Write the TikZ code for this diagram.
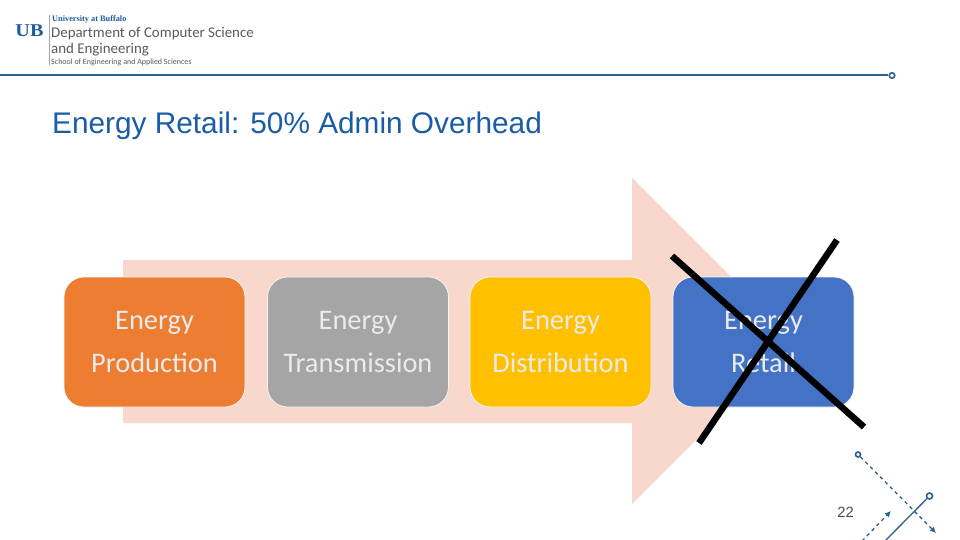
\documentclass[tikz,border=0pt]{standalone}
\usepackage{fontspec}
\setmainfont{Liberation Sans}
\newfontfamily\calib{Carlito}
\newfontfamily\ubserif{Liberation Serif}
\usetikzlibrary{arrows.meta}
\definecolor{ubline}{HTML}{2A6190}
\definecolor{ubblue}{HTML}{1F5C99}
\definecolor{titleblue}{HTML}{1A5CA6}
\definecolor{arrowpink}{HTML}{F8D7CD}
\definecolor{cOrange}{HTML}{ED7D31}
\definecolor{cGray}{HTML}{A5A5A5}
\definecolor{cYellow}{HTML}{FFC000}
\definecolor{cBlue}{HTML}{4472C4}
\definecolor{logotxt}{HTML}{5A5A5A}
\tikzset{
  stagebox/.style={draw=white!80!black!20,line width=0.8pt,rounded corners=20pt,minimum width=181pt,minimum height=130pt,inner sep=0pt,
    text=white!92!black,align=center,font=\calib\fontsize{28.4}{43}\selectfont},
  crossline/.style={black,line width=6.5pt},
  ringdot/.style={circle,draw=ubline,fill=white,line width=1.6pt,minimum size=5.5pt,inner sep=0pt},
  deco/.style={ubline,line width=1.3pt},
  decodash/.style={deco,dash pattern=on 3.5pt off 3.5pt,-{Latex[length=6pt,width=6pt]}},
  logoline/.style={text=logotxt,anchor=west,inner sep=0pt,font=\calib}
}
\begin{document}
\begin{tikzpicture}[x=1pt,y=-1pt]
\useasboundingbox (0,0) rectangle (960,540);
\fill[white] (0,0) rectangle (960,540);
% logo
\draw[gray!70,line width=0.6pt] (49,15) -- (49,65);
\node[inner sep=0pt,text=ubblue,font=\ubserif\bfseries\fontsize{18}{18}\selectfont,xscale=1.12] (ub) at (29.5,31) {UB};
\node[logoline,text=ubblue,font=\ubserif\bfseries\fontsize{8.3}{8}\selectfont] (l1) at (52,19) {University at Buffalo};
\node[logoline,font=\calib\fontsize{14.9}{16}\selectfont] (l2) at (51,34) {Department of Computer Science};
\node[logoline,font=\calib\fontsize{14.9}{16}\selectfont] (l3) at (51,49.5) {and Engineering};
\node[logoline,font=\calib\fontsize{8}{8}\selectfont] (l4) at (51,62.5) {School of Engineering and Applied Sciences};
% header rule
\node[ringdot] (hdot) at (892,75.5) {};
\coordinate (hstart) at (0,75.5);
\draw[ubline,line width=2pt] (hstart) -- (hdot);
% title
\node[anchor=west,inner sep=0pt,text=titleblue,font=\fontsize{29.8}{30}\selectfont] (title) at (52,126) {Energy Retail: 50\% Admin Overhead};
% big arrow
\fill[arrowpink] (123,260) -- (632,260) -- (632,178) -- (795,341) -- (632,504) -- (632,423) -- (123,423) -- cycle;
% boxes
\node[stagebox,fill=cOrange] (a) at (154.5,342) {Energy\\Production};
\node[stagebox,fill=cGray] (b) at (358,342) {Energy\\Transmission};
\node[stagebox,fill=cYellow] (c) at (560.5,342) {Energy\\Distribution};
\node[stagebox,fill=cBlue] (d) at (763.5,342) {Energy\\Retail};
% cross
\coordinate (x1a) at (672,256); \coordinate (x1b) at (864,427);
\coordinate (x2a) at (837,240); \coordinate (x2b) at (699,443);
\draw[crossline] (x1a) -- (x1b);
\draw[crossline] (x2a) -- (x2b);
% corner decoration
\begin{scope}
\clip (0,0) rectangle (960,540);
\node[ringdot,minimum size=5pt] (r1) at (858,454.5) {};
\node[ringdot,minimum size=6pt] (r2) at (929.5,496) {};
\coordinate (e1) at (936,533);
\coordinate (e2) at (885,541);
\coordinate (e3) at (862,541);
\coordinate (e4) at (891,511);
\draw[decodash] (r1) -- (e1);
\draw[deco] (r2) -- (e2);
\draw[decodash] (e3) -- (e4);
\end{scope}
% page number
\node[inner sep=0pt,text=black!70,font=\fontsize{14.8}{15}\selectfont] (pg) at (845.5,512) {22};
\end{tikzpicture}
\end{document}
